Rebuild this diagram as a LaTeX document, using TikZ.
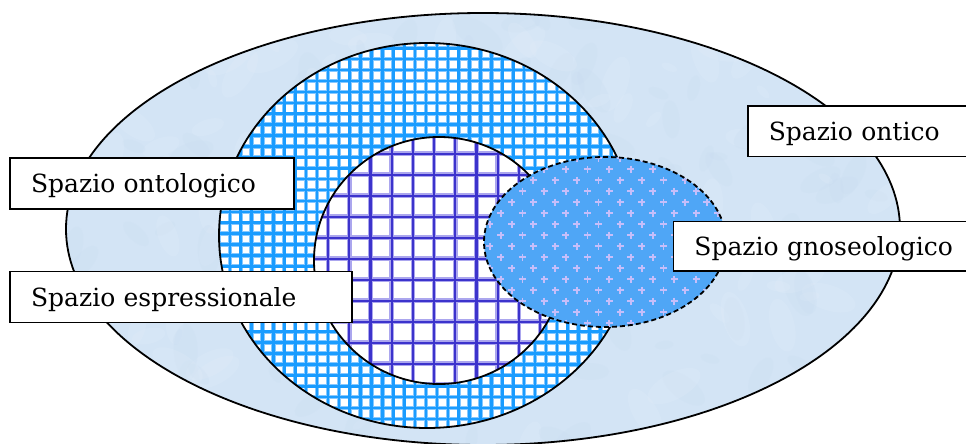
\documentclass[tikz,border=0pt]{standalone}
\usepackage{fontspec}
\setmainfont{DejaVu Serif}
\usetikzlibrary{shadows}
\definecolor{outerfill}{HTML}{D3E4F5}
\definecolor{outerlight}{HTML}{E4EFFA}
\definecolor{outerdark}{HTML}{C7DBF0}
\definecolor{midcore}{HTML}{1A9CFF}
\definecolor{midhalo}{HTML}{86C8FF}
\definecolor{inncore}{HTML}{3C33CC}
\definecolor{innhalo}{HTML}{ABA6EE}
\definecolor{gnofill}{HTML}{4FA6F6}
\definecolor{gnodot}{HTML}{C6BEFA}
\begin{document}
\begin{tikzpicture}[x=1pt,y=-1pt,
  contour/.style={draw=black,line width=1.8pt},
  midhaloline/.style={draw=midhalo,line width=4.3pt},
  midcoreline/.style={draw=midcore,line width=2.6pt},
  innhaloline/.style={draw=innhalo,line width=4.6pt},
  inncoreline/.style={draw=inncore,line width=2.2pt},
  plusdot/.style={draw=gnodot,line width=1.8pt},
  blotch/.style={opacity=0.22},
  lbl/.style={draw=black,fill=white,line width=1.5pt,anchor=north west,
    inner xsep=21pt,inner ysep=0pt,text height=18.5pt,text depth=0pt,
    align=left,font=\fontsize{25}{29}\selectfont,
    drop shadow={shadow xshift=1pt,shadow yshift=-1pt,fill=black,opacity=0.8}}]
\useasboundingbox (0,0) rectangle (966,444);
\clip (0,0) rectangle (966,444);
\fill[white] (0,0) rectangle (966,444);
% outer ellipse: ontic space (mottled light blue)
\begin{scope}
  \clip (483,229) ellipse [x radius=417pt,y radius=216pt];
  \fill[outerfill] (60,10) rectangle (905,450);
  \pgfmathsetseed{7}
  \foreach \n in {1,...,260} {
    \pgfmathsetmacro{\bx}{70+830*rnd}
    \pgfmathsetmacro{\by}{15+430*rnd}
    \pgfmathsetmacro{\br}{8+22*rnd}
    \pgfmathsetmacro{\ba}{180*rnd}
    \pgfmathsetmacro{\bc}{rnd}
    \ifdim\bc pt<0.5pt
      \fill[outerlight,blotch,rotate around={\ba:(\bx,\by)}] (\bx,\by) ellipse [x radius=\br pt,y radius=0.45*\br pt];
    \else
      \fill[outerdark,blotch,rotate around={\ba:(\bx,\by)}] (\bx,\by) ellipse [x radius=\br pt,y radius=0.45*\br pt];
    \fi
  }
\end{scope}
\draw[contour] (483,229) ellipse [x radius=417pt,y radius=216pt];
% middle ellipse: ontological space (fine cyan grid)
\begin{scope}
  \clip (427,235.5) ellipse [x radius=208pt,y radius=192.5pt];
  \fill[white] (200,30) rectangle (660,440);
  \foreach \k in {0,...,39} {
    \draw[midhaloline] ({218.9+10.9*\k},30) -- ({218.9+10.9*\k},440);
  }
  \foreach \k in {0,...,36} {
    \draw[midhaloline] (200,{37.4+10.9*\k}) -- (660,{37.4+10.9*\k});
  }
  \foreach \k in {0,...,39} {
    \draw[midcoreline] ({218.9+10.9*\k},30) -- ({218.9+10.9*\k},440);
  }
  \foreach \k in {0,...,36} {
    \draw[midcoreline] (200,{37.4+10.9*\k}) -- (660,{37.4+10.9*\k});
  }
\end{scope}
\draw[contour] (427,235.5) ellipse [x radius=208pt,y radius=192.5pt];
% inner circle: expressional space (wide violet grid)
\begin{scope}
  \clip (439,260.5) ellipse [x radius=125pt,y radius=123.5pt];
  \fill[white] (300,120) rectangle (580,400);
  \foreach \k in {0,...,13} {
    \draw[innhaloline] ({306.9+21.2*\k},120) -- ({306.9+21.2*\k},400);
  }
  \foreach \k in {0,...,12} {
    \draw[innhaloline] (300,{132.7+21*\k}) -- (580,{132.7+21*\k});
  }
  \foreach \k in {0,...,13} {
    \draw[inncoreline] ({306.9+21.2*\k},120) -- ({306.9+21.2*\k},400);
  }
  \foreach \k in {0,...,12} {
    \draw[inncoreline] (300,{132.7+21*\k}) -- (580,{132.7+21*\k});
  }
\end{scope}
\draw[contour] (439,260.5) ellipse [x radius=125pt,y radius=123.5pt];
% gnoseological space (dotted blue, dashed outline)
\begin{scope}
  \clip (605,242) ellipse [x radius=121pt,y radius=85pt];
  \fill[gnofill] (480,150) rectangle (730,335);
  \foreach \j in {-7,...,10} {
    \foreach \i in {-5,...,7} {
      \pgfmathsetmacro{\dx}{576.7+21.7*\i+10.85*mod(abs(\j),2)}
      \pgfmathsetmacro{\dy}{224+11*\j}
      \draw[plusdot,shift={(\dx,\dy)}] (-3.5,0) -- (3.5,0) (0,-3.5) -- (0,3.5);
    }
  }
\end{scope}
\draw[contour,dash pattern=on 5pt off 3pt] (605,242) ellipse [x radius=121pt,y radius=85pt];
% labels
\node[lbl,text width=242pt,minimum height=51pt] (ontologico) at (9.3,157) {Spazio ontologico};
\node[lbl,text width=300pt,minimum height=51pt] (espressionale) at (9.3,270.7) {Spazio espressionale};
\node[lbl,text width=200pt,minimum height=50.7pt] (ontico) at (747,105) {Spazio ontico};
\node[lbl,text width=270pt,minimum height=49.3pt] (gnoseologico) at (672.7,220.7) {Spazio gnoseologico};
\end{tikzpicture}
\end{document}
